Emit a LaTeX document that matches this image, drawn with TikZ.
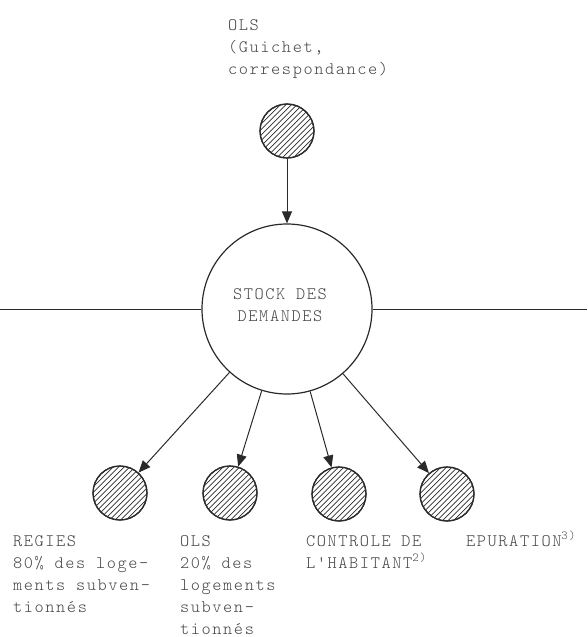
\documentclass[tikz,border=0pt]{standalone}
\usepackage{fontspec}
\setmonofont[LetterSpace=9]{lmmonolt10-regular.otf}
\usetikzlibrary{arrows.meta}
\definecolor{linec}{HTML}{2A2A2A}
\definecolor{textc}{HTML}{454545}
\newcommand{\st}{\rule{0pt}{16pt}}
\newcommand{\tfont}{\ttfamily\fontsize{17.5}{22}\selectfont}
\begin{document}
\begin{tikzpicture}[x=1pt,y=-1pt,
  bigc/.style={circle, draw=linec, line width=1.2pt, minimum size=170pt, inner sep=0pt},
  hatchc/.style={circle, draw=linec, line width=1.2pt, minimum size=54pt, inner sep=0pt},
  conn/.style={draw=linec, line width=1pt, -{Triangle[length=12pt,width=10pt]}},
  plain/.style={draw=linec, line width=1pt},
  lbl/.style={font=\tfont, text=textc, inner sep=0pt, align=left, anchor=north west},
  hatchline/.style={draw=linec, line width=0.7pt}
]
\useasboundingbox (0,0) rectangle (587,637);

% nodes
\node[bigc] (big) at (287,309) {};
\node[hatchc] (top) at (287,131) {};
\node[hatchc] (s1) at (120,493) {};
\node[hatchc] (s2) at (230,493) {};
\node[hatchc] (s3) at (339,494) {};
\node[hatchc] (s4) at (447,494) {};

% hatching
\foreach \n in {top,s1,s2,s3,s4}{
  \begin{scope}
    \clip (\n.center) circle (27pt);
    \foreach \d in {-38.5,-33,...,38.5}{
      \draw[hatchline] ([shift={(\d-30,30)}]\n.center) -- ++(60,-60);
    }
  \end{scope}
  \draw[linec, line width=1.2pt] (\n.center) circle (27pt);
}

% text in big circle
\node[font=\tfont, text=textc, inner sep=0pt, align=center, anchor=north] (stock) at (280,283) {\st STOCK DES\\DEMANDES};

% side lines
\coordinate (lend) at (0,309);
\coordinate (rend) at (587,309);
\draw[plain] (lend) -- (big.west);
\draw[plain] (big.east) -- (rend);

% connectors
\draw[conn] (top) -- (big);
\draw[conn] (big) -- (s1);
\draw[conn] (big) -- (s2);
\draw[conn] (big) -- (s3);
\draw[conn] (big) -- (s4);

% labels
\node[lbl] (ltop) at (228,14) {\st OLS\\(Guichet,\\correspondance)};
\node[lbl] (l1) at (13,530) {\st REGIES\\80\% des loge-\\ments subven-\\tionnés};
\node[lbl] (l2) at (180,530) {\st OLS\\20\% des\\logements\\subven-\\tionnés};
\node[lbl] (l3) at (306,530) {\st CONTROLE DE\\L'HABITANT\textsuperscript{2)}};
\node[lbl] (l4) at (466,530) {\st EPURATION\textsuperscript{3)}};
\end{tikzpicture}
\end{document}
